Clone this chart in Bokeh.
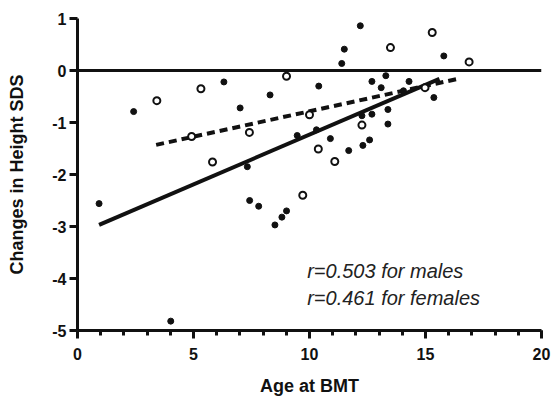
from bokeh.plotting import figure
from bokeh.models import Span, Range1d, FixedTicker, Label, LinearAxis
from bokeh.embed import file_html
from bokeh.resources import INLINE

# Males (filled)
male_age = [0.93, 2.42, 4.02, 6.31, 7.01, 7.32, 7.42, 7.81, 8.30, 8.51, 8.81, 9.01,
            9.47, 9.71, 10.3, 10.40, 10.9, 11.39, 11.50, 11.69, 12.19, 12.26, 12.30,
            12.59, 12.69, 12.69, 13.09, 13.29, 13.38, 13.38, 14.05, 14.29, 15.36, 15.79]
male_sds = [-2.56, -0.79, -4.82, -0.22, -0.72, -1.85, -2.50, -2.61, -0.47, -2.97, -2.82, -2.70,
            -1.25, -2.40, -1.14, -0.30, -1.31, 0.135, 0.41, -1.54, 0.86, -0.87, -1.44,
            -1.335, -0.21, -0.84, -0.33, -0.10, -0.75, -1.03, -0.39, -0.21, -0.52, 0.28]

# Females (open)
female_age = [3.42, 4.92, 5.32, 5.82, 7.41, 9.01, 9.71, 10.0, 10.38, 11.09, 12.26,
              13.49, 14.98, 15.29, 16.88]
female_sds = [-0.58, -1.27, -0.35, -1.76, -1.19, -0.11, -2.40, -0.85, -1.51, -1.75, -1.05,
              0.44, -0.33, 0.73, 0.165]

# Regression lines (end points)
male_fit_x = [0.93, 15.6]
male_fit_y = [-2.97, -0.16]
female_fit_x = [3.39, 16.5]
female_fit_y = [-1.43, -0.15]

x_ticks = [0, 5, 10, 15, 20]
x_minor_ticks = list(range(0, 21))
y_ticks = [1, 0, -1, -2, -3, -4, -5]
y_tick_labels = ["1", "0", "-1", "-2", "-3", "-4", "-5"]
annotations = ["r=0.503 for males", "r=0.461 for females"]

FONT = "Liberation Sans"
INK = "#111111"

p = figure(width=555, height=405, output_backend="svg", toolbar_location=None,
           x_range=Range1d(0, 20), y_range=Range1d(-5, 1),
           x_axis_location=None, y_axis_location=None,
           min_border_left=77, min_border_right=14, min_border_top=18, min_border_bottom=75)
p.outline_line_color = None
p.xgrid.visible = False
p.ygrid.visible = False

common = dict(
    axis_line_color=INK, axis_line_width=3,
    major_tick_line_color=INK, major_tick_line_width=3,
    major_tick_in=0, major_tick_out=8,
    major_label_text_font=FONT, major_label_text_font_style="bold",
    major_label_text_font_size="16px", major_label_text_color=INK,
    axis_label_text_font=FONT, axis_label_text_font_style="bold",
    axis_label_text_font_size="18px", axis_label_text_color=INK,
)

xaxis = LinearAxis(
    ticker=FixedTicker(ticks=x_ticks, minor_ticks=x_minor_ticks),
    minor_tick_line_color=INK, minor_tick_line_width=3,
    minor_tick_in=0, minor_tick_out=5,
    major_label_standoff=9, axis_label="Age at BMT", axis_label_standoff=13,
    **common)
yaxis = LinearAxis(
    ticker=FixedTicker(ticks=y_ticks, minor_ticks=[]),
    minor_tick_line_color=None,
    major_label_standoff=3,
    major_label_overrides={t: s for t, s in zip(y_ticks, y_tick_labels)},
    axis_label="Changes in Height SDS", axis_label_standoff=22,
    **common)
p.add_layout(xaxis, "below")
p.add_layout(yaxis, "left")

p.add_layout(Span(location=0, dimension="width", line_color=INK, line_width=3))

p.line(male_fit_x, male_fit_y, line_color=INK, line_width=4)
p.line(female_fit_x, female_fit_y, line_color=INK, line_width=4, line_dash="8 5")

p.scatter(male_age, male_sds, size=6, marker="circle", fill_color=INK, line_color=INK)
p.scatter(female_age, female_sds, size=7, marker="circle", fill_color="white",
          line_color=INK, line_width=2)

p.add_layout(Label(x=9.9, y=-3.85, text=annotations[0], text_font=FONT,
                   text_font_style="italic", text_font_size="20px", text_color="#222222",
                   text_baseline="middle"))
p.add_layout(Label(x=9.9, y=-4.37, text=annotations[1], text_font=FONT,
                   text_font_style="italic", text_font_size="20px", text_color="#222222",
                   text_baseline="middle"))

open("out.html", "w").write(file_html(p, INLINE))
